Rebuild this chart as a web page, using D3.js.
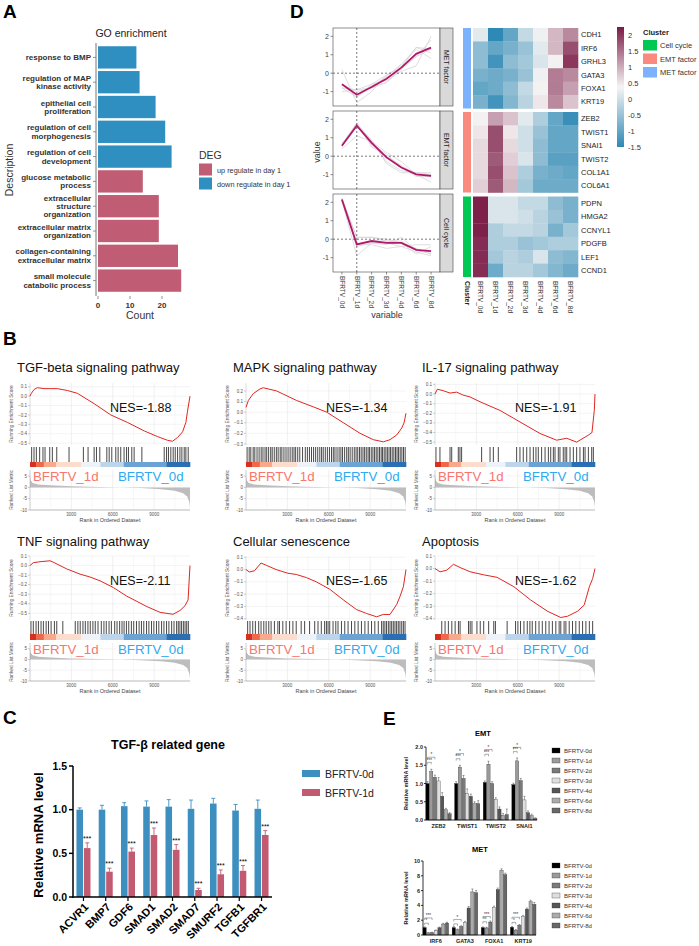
<!DOCTYPE html>
<html>
<head>
<meta charset="utf-8">
<script src="https://cdn.jsdelivr.net/npm/d3@7"></script>
<style>
body { margin: 0; background: #fff; }
text { font-family: "Liberation Sans", Arial, sans-serif; }
</style>
</head>
<body>
<script>
// ---------- A: GO enrichment
var goTerms = ["response to BMP", "regulation of MAP\nkinase activity", "epithelial cell\nproliferation",
  "regulation of cell\nmorphogenesis", "regulation of cell\ndevelopment", "glucose metabolic\nprocess",
  "extracellular\nstructure\norganization", "extracellular matrix\norganization",
  "collagen-containing\nextracellular matrix", "small molecule\ncatabolic process"];
var goCounts = [12, 13, 18, 21, 23, 14, 19, 19, 25, 26];
var goDEG = ["down", "down", "down", "down", "down", "up", "up", "up", "up", "up"];
var countTicks = [0, 10, 20];
var degLabels = ["up regulate in day 1", "down regulate in day 1"];

// ---------- B: GSEA
var gseaNames = ["TGF-beta signaling pathway", "MAPK signaling pathway", "IL-17 signaling pathway",
  "TNF signaling pathway", "Cellular senescence", "Apoptosis"];
var gseaNES = ["-1.88", "-1.34", "-1.91", "-2.11", "-1.65", "-1.62"];
var nRank = 11600;
var esTGF = [[0,0],[100,0.03],[290,0.07],[530,0.09],[1020,0.08],[1500,0.08],[1980,0.08],[2710,0.06],[3440,0.03],[4650,-0.08],[5860,-0.2],[7070,-0.28],[8280,-0.37],[9240,-0.43],[9970,-0.47],[10330,-0.48],[10700,-0.44],[11060,-0.38],[11300,-0.28],[11420,-0.16],[11600,0]];
var esMAPK = [[0,0.045],[170,0.11],[530,0.175],[1020,0.22],[1260,0.23],[2220,0.2],[3670,0.11],[4880,0.05],[5850,0],[7060,-0.1],[8270,-0.2],[9230,-0.26],[9960,-0.28],[10440,-0.26],[10930,-0.215],[11290,-0.15],[11460,-0.1],[11600,-0.01]];
var esIL17 = [[0,0],[170,0.05],[600,0.035],[1090,0.01],[1570,0.02],[2030,-0.01],[2540,-0.03],[3260,-0.08],[4710,-0.17],[6160,-0.29],[7610,-0.41],[8820,-0.48],[9550,-0.46],[10270,-0.5],[11090,-0.43],[11380,-0.4],[11550,-0.17],[11600,0]];
var esTNF = [[0,0],[240,0.03],[730,0.04],[1450,0.05],[1690,0.035],[2660,-0.035],[3630,-0.09],[4350,-0.12],[5080,-0.16],[6040,-0.23],[7010,-0.32],[8480,-0.43],[9430,-0.49],[10370,-0.51],[10880,-0.47],[11240,-0.42],[11460,-0.36],[11600,0]];
var esSEN = [[0,0],[240,-0.02],[610,-0.01],[1090,0.053],[1460,0.035],[2180,0],[3030,-0.03],[3640,-0.04],[4370,-0.065],[5100,-0.1],[6070,-0.16],[7040,-0.245],[8010,-0.325],[8740,-0.357],[9470,-0.384],[9950,-0.365],[10440,-0.365],[10920,-0.285],[11160,-0.22],[11410,-0.14],[11600,0]];
var esAPO = [[0,0],[370,-0.026],[850,-0.013],[1340,0.034],[1820,0.008],[2550,-0.026],[3530,-0.05],[4500,-0.07],[5720,-0.145],[6930,-0.25],[8150,-0.34],[9120,-0.39],[9610,-0.38],[10340,-0.34],[10820,-0.29],[11190,-0.145],[11430,-0.08],[11600,0]];
var esDomains = [[-0.52, 0.14], [-0.31, 0.275], [-0.53, 0.115], [-0.57, 0.1], [-0.41, 0.11], [-0.41, 0.1]];
var hitsTGF = [120,290,460,700,940,1090,1430,1620,1940,2830,3870,4210,4650,4820,5060,5570,5740,5930,6220,6390,6580,6820,7000,7140,7380,7550,8110,9730,9900,10040,10210,10380,10530,10700,10870,11010,11180,11300,11470];
var hitsMAPK = [80,230,350,520,640,800,950,1100,1230,1380,1500,1640,1790,1900,2050,2200,2330,2480,2600,2750,2900,3050,3200,3350,3480,3600,3750,3900,4100,4300,4450,4600,4750,4900,5050,5200,5350,5480,5600,5750,5900,6050,6200,6330,6450,6600,6750,6880,7000,7150,7300,7420,7550,7700,7850,7980,8100,8230,8350,8480,8600,8720,8850,8950,9080,9200,9320,9440,9560,9680,9800,9900,10020,10140,10250,10370,10480,10600,10720,10840,10950,11060,11180,11300,11420,11540];
var hitsIL17 = [70,360,1090,1210,1690,1810,1930,3380,3990,4230,4590,5920,6160,6400,6650,6890,7130,7320,7490,7730,7980,8220,8390,8580,8700,8940,9060,9300,9430,9550,9790,10030,10270,10510,10760,10880,11120,11360,11480];
var hitsTNF = [70,240,440,610,800,970,1170,1340,1530,1770,1940,2380,3280,3470,3640,3840,4010,4200,4370,4560,4730,4930,5170,5360,5530,5730,5900,6140,6310,6500,6670,6820,6990,7160,7350,7520,7720,7910,8080,8250,8450,8620,8810,8980,9170,9340,9540,9710,9900,10070,10270,10440,10630,10750,10870,10990,11120,11240,11360,11480];
var hitsSEN = [120,290,490,680,920,1090,1290,1460,1650,1820,2060,2310,2430,2670,2910,3160,3400,3640,4000,4250,4610,4980,5220,5460,5700,5830,5950,6070,6310,6510,6670,6920,7160,7400,7650,7890,8130,8370,8620,8860,9100,9340,9590,9830,9950,10070,10190,10320,10440,10560,10680,10800,10920,11040,11160,11290,11410,11530];
var hitsAPO = [490,730,970,1220,1460,1700,1820,2430,2550,2680,3040,3280,3530,3890,4260,4380,5230,5840,6010,6200,6450,6690,6880,7050,7300,7540,7780,8030,8270,8510,8760,9000,9120,9360,9490,9730,9970,10210,10460,10700,10940,11190,11430];
var rankMetric = [[0,5],[60,3],[200,2],[600,1.3],[1500,0.9],[3000,0.5],[5000,0.2],[6500,0],[8000,-0.3],[9500,-0.8],[10500,-1.5],[11100,-2.6],[11400,-4],[11550,-6.5],[11600,-9]];
var rankTicks = [5, 0, -5, -10];
var rankXTicks = [3000, 6000, 9000];
var cbBreaks = [0, 450, 1000, 1900, 3700, 5100, 6800, 9900, 11600];
var cbColors = ["#d7301f", "#f0684a", "#f8a98c", "#fcdccd", "#eef2f9", "#bcd5eb", "#6aa3d4", "#2a6eb3"];

// ---------- C: TGF-beta related genes
var tgfGenes = ["ACVR1", "BMP7", "GDF6", "SMAD1", "SMAD2", "SMAD7", "SMURF2", "TGFB1", "TGFBR1"];
var tgfGroups = ["BFRTV-0d", "BFRTV-1d"];
var tgf0d = [1.0, 1.0, 1.04, 1.035, 1.035, 1.01, 1.07, 0.99, 1.01];
var tgf0dErr = [0.02, 0.05, 0.04, 0.065, 0.08, 0.1, 0.06, 0.07, 0.1];
var tgf1d = [0.56, 0.29, 0.52, 0.71, 0.54, 0.08, 0.26, 0.3, 0.71];
var tgf1dErr = [0.06, 0.04, 0.04, 0.08, 0.06, 0.02, 0.05, 0.06, 0.05];
var tgfTicks = [0, 0.5, 1.0, 1.5];

// ---------- D: temporal clusters
var days = ["BFRTV_0d", "BFRTV_1d", "BFRTV_2d", "BFRTV_3d", "BFRTV_4d", "BFRTV_6d", "BFRTV_8d"];
var clusterNames = ["MET factor", "EMT factor", "Cell cycle"];
var clusterColors = ["#7cb1fb", "#fa8a7e", "#00c853"];
var metGenes = ["CDH1", "IRF6", "GRHL3", "GATA3", "FOXA1", "KRT19"];
var metZ = [[0.2,-1.6,-1.0,-0.1,0.3,0.9,1.3],[-0.6,-1.0,-0.8,-0.5,0.2,0.9,1.8],[-0.6,-1.3,-0.6,-0.4,0.1,0.4,2.0],
  [-0.8,-0.9,-0.8,-0.5,0.3,1.4,1.3],[-1.0,-0.9,-0.6,-0.1,0.4,1.4,1.1],[-0.8,-1.3,-0.7,-0.2,0.5,1.3,0.8]];
var emtGenes = ["ZEB2", "TWIST1", "SNAI1", "TWIST2", "COL1A1", "COL6A1"];
var emtZ = [[0.4,1.1,0.8,0.2,-0.3,-1.0,-1.4],[0.5,1.8,0.5,0.0,-0.5,-1.0,-1.0],[0.6,1.8,0.6,0.0,-0.6,-1.0,-1.0],
  [0.6,1.7,0.7,0.1,-0.6,-1.1,-1.1],[0.6,1.8,0.8,-0.3,-0.8,-0.9,-1.0],[0.7,1.7,0.9,-0.4,-0.9,-0.9,-0.9]];
var cycGenes = ["PDPN", "HMGA2", "CCNYL1", "PDGFB", "LEF1", "CCND1"];
var cycZ = [[2.2,0.1,0.1,-0.1,-0.1,-0.6,-0.8],[2.2,0.1,0.1,0.0,-0.2,-0.5,-0.8],[2.2,-0.3,-0.1,-0.1,-0.2,-0.8,-0.4],
  [2.1,-0.3,-0.3,-0.5,-0.4,-0.3,-0.3],[2.1,-0.4,-0.2,-0.3,0.1,-0.6,-0.7],[2.1,-0.9,-0.2,-0.2,-0.4,-0.7,-0.9]];
var valueTicks = [-1, 0, 1, 2];
var heatTicks = [2, 1.5, 1, 0.5, 0, -0.5, -1, -1.5];

// ---------- E: qPCR time course
var eDays = ["BFRTV-0d", "BFRTV-1d", "BFRTV-2d", "BFRTV-3d", "BFRTV-4d", "BFRTV-6d", "BFRTV-8d"];
var eGrays = ["#000000", "#9a9a9a", "#7a7a7a", "#dedede", "#565656", "#ababab", "#686868"];
var emtGenesE = ["ZEB2", "TWIST1", "TWIST2", "SNAI1"];
var emtVals = [[1.0,1.33,1.17,1.07,0.65,0.28,0.17],[1.0,1.45,1.14,0.72,0.65,0.45,0.45],[1.03,1.53,1.0,0.56,0.3,0.13,0.15],[0.97,1.62,1.08,0.55,0.2,0.12,0.04]];
var emtErr = [[0.05,0.06,0.06,0.09,0.1,0.04,0.03],[0.05,0.05,0.08,0.13,0.06,0.05,0.08],[0.04,0.08,0.05,0.05,0.06,0.05,0.15],[0.04,0.08,0.06,0.1,0.05,0.04,0.02]];
var emtBr = [[[0,1,1.58,"***"],[0,2,1.72,"*"]],[[0,1,1.68,"***"],[0,2,1.82,"*"]],[[0,1,1.8,"***"],[0,2,1.93,"*"]],[[0,1,1.88,"***"],[0,2,1.99,"*"]]];
var emtTicks = [0, 0.5, 1.0, 1.5, 2.0];
var metGenesE = ["IRF6", "GATA3", "FOXA1", "KRT19"];
var metVals = [[1.0,0.28,0.32,0.6,0.98,1.48,1.62],[1.0,0.7,1.15,1.72,3.65,5.82,5.72],[1.0,0.95,1.75,3.75,6.15,8.75,8.15],[1.05,0.65,1.32,2.55,3.5,4.5,4.15]];
var metErr = [[0.1,0.05,0.05,0.08,0.1,0.1,0.1],[0.15,0.1,0.1,0.1,0.2,0.4,0.3],[0.1,0.1,0.15,0.15,0.2,0.2,0.2],[0.1,0.1,0.1,0.1,0.15,0.2,0.25]];
var metBr = [[[0,1,1.6,"*"],[0,2,2.3,"***"]],[[0,1,1.5,""],[0,2,2.1,"*"]],[[0,1,1.8,"**"],[0,2,2.5,"***"]],[[0,1,1.7,"*"],[0,2,2.4,"***"]]];
var metTicks = [0, 2, 4, 6, 8, 10];

var width = 699, height = 946;
var svg = d3.select("body").append("svg").attr("width", width).attr("height", height);

function txt(g, x, y, s, size, opt) {
  opt = opt || {};
  var t = g.append("text").attr("x", x).attr("y", y).attr("font-size", size).text(s)
    .attr("fill", opt.fill || "#000");
  if (opt.bold) t.attr("font-weight", "bold");
  if (opt.anchor) t.attr("text-anchor", opt.anchor);
  if (opt.rotate != null) t.attr("transform", "rotate(" + opt.rotate + "," + x + "," + y + ")");
  return t;
}
function hline(g, x1, x2, y, col, w) {
  return g.append("line").attr("x1", x1).attr("x2", x2).attr("y1", y).attr("y2", y).attr("stroke", col).attr("stroke-width", w);
}
function vline(g, x, y1, y2, col, w) {
  return g.append("line").attr("x1", x).attr("x2", x).attr("y1", y1).attr("y2", y2).attr("stroke", col).attr("stroke-width", w);
}

// panel letters
[["A", 3, 18], ["D", 290, 18], ["B", 3, 345], ["C", 3, 724], ["E", 383, 725]].forEach(function (l) {
  txt(svg, l[1], l[2], l[0], 19, {bold: true});
});

// ================= A =================
var gA = svg.append("g");
var yA = d3.scaleBand().domain(goTerms).range([45, 293]).paddingInner(0.1).paddingOuter(0.05);
var xA = d3.scaleLinear().domain([0, 20]).range([98, 162]);
txt(gA, 131, 37, "GO enrichment", 10.5, {anchor: "middle", fill: "#222"});
gA.selectAll("rect").data(goTerms).join("rect")
  .attr("x", xA(0)).attr("y", function (d) { return yA(d); })
  .attr("height", yA.bandwidth())
  .attr("width", function (d, i) { return xA(goCounts[i]) - xA(0); })
  .attr("fill", function (d, i) { return goDEG[i] === "up" ? "#c05c73" : "#2e8fc0"; });
vline(gA, 96, 43, 296, "#777", 1);
goTerms.forEach(function (d) {
  var cy = yA(d) + yA.bandwidth() / 2;
  hline(gA, 93, 96, cy, "#777", 0.8);
  var lines = d.split("\n");
  lines.forEach(function (s, j) {
    txt(gA, 91, cy + (j - (lines.length - 1) / 2) * 8.3 + 2.8, s, 8, {bold: true, anchor: "end", fill: "#333"});
  });
});
countTicks.forEach(function (t) {
  vline(gA, xA(t), 296, 299, "#777", 0.8);
  txt(gA, xA(t), 308, t, 8, {anchor: "middle", bold: true, fill: "#333"});
});
txt(gA, 140, 319, "Count", 10.5, {anchor: "middle", fill: "#333"});
txt(gA, 13, 170, "Description", 10.5, {anchor: "middle", fill: "#333", rotate: -90});
txt(gA, 199, 159, "DEG", 10.5, {fill: "#333"});
gA.append("rect").attr("x", 199).attr("y", 163.5).attr("width", 13).attr("height", 12).attr("fill", "#c05c73");
gA.append("rect").attr("x", 199).attr("y", 177.5).attr("width", 13).attr("height", 12).attr("fill", "#2e8fc0");
txt(gA, 217, 172.5, degLabels[0], 7.3, {fill: "#333"});
txt(gA, 217, 186.5, degLabels[1], 7.3, {fill: "#333"});

// ================= B =================
var gseaES = [esTGF, esMAPK, esIL17, esTNF, esSEN, esAPO];
var gseaHits = [hitsTGF, hitsMAPK, hitsIL17, hitsTNF, hitsSEN, hitsAPO];
var gseaLeft = [30, 246, 435];
var gseaRows = [
  {title: 372, esTop: 383, esBot: 445, hitTop: 447, hitBot: 462, cbBot: 467, rlTop: 470, rlBot: 510},
  {title: 546, esTop: 556, esBot: 620, hitTop: 621, hitBot: 634, cbBot: 640, rlTop: 643, rlBot: 681}
];
gseaNames.forEach(function (name, k) {
  var g = svg.append("g");
  var L = gseaLeft[k % 3], R = L + 160, lay = gseaRows[Math.floor(k / 3)];
  var x = d3.scaleLinear().domain([0, nRank]).range([L, R]);
  var yES = d3.scaleLinear().domain(esDomains[k]).range([lay.esBot, lay.esTop]);
  var yRL = d3.scaleLinear().domain([-10, 7.7]).range([lay.rlBot, lay.rlTop]);
  txt(g, L - 13, lay.title, name, 13, {fill: "#111"});
  // grid
  [1500, 3000, 4500, 6000, 7500, 9000, 10500].forEach(function (t) {
    var c = (t % 3000 === 0) ? "#e6e6e6" : "#f2f2f2";
    vline(g, x(t), lay.esTop, lay.esBot, c, 0.6);
    vline(g, x(t), lay.rlTop, lay.rlBot, c, 0.6);
  });
  var esT = yES.ticks(7);
  esT.forEach(function (t) {
    hline(g, L, R, yES(t), "#ececec", 0.6);
    hline(g, L - 2, L, yES(t), "#888", 0.4);
    txt(g, L - 3, yES(t) + 1.6, d3.format(".1f")(t), 4.5, {anchor: "end", fill: "#555"});
  });
  vline(g, L, lay.esTop, lay.esBot, "#bbb", 0.5);
  txt(g, L - 17, (lay.esTop + lay.esBot) / 2, "Running Enrichment Score", 4.8, {anchor: "middle", fill: "#555", rotate: -90});
  // enrichment curve
  g.append("path").datum(gseaES[k])
    .attr("d", d3.line().x(function (d) { return x(d[0]); }).y(function (d) { return yES(d[1]); }))
    .attr("fill", "none").attr("stroke", "#e0261f").attr("stroke-width", 1);
  // hits
  g.selectAll("line.hit").data(gseaHits[k]).join("line").attr("class", "hit")
    .attr("x1", function (d) { return x(d); }).attr("x2", function (d) { return x(d); })
    .attr("y1", lay.hitTop).attr("y2", lay.hitBot)
    .attr("stroke", "#000").attr("stroke-opacity", 0.8).attr("stroke-width", 0.9);
  // rank colour bar
  cbColors.forEach(function (c, i) {
    g.append("rect").attr("x", x(cbBreaks[i])).attr("y", lay.hitBot)
      .attr("width", x(cbBreaks[i + 1]) - x(cbBreaks[i]) + 0.3).attr("height", lay.cbBot - lay.hitBot).attr("fill", c);
  });
  // ranked list metric
  rankTicks.forEach(function (t) {
    hline(g, L, R, yRL(t), "#ececec", 0.6);
    hline(g, L - 2, L, yRL(t), "#888", 0.4);
    txt(g, L - 3, yRL(t) + 1.6, t, 4.5, {anchor: "end", fill: "#555"});
  });
  g.append("path").datum(rankMetric)
    .attr("d", d3.area().x(function (d) { return x(d[0]); }).y0(yRL(0)).y1(function (d) { return yRL(d[1]); }))
    .attr("fill", "#bdbdbd");
  vline(g, L, lay.rlTop, lay.rlBot, "#999", 0.5);
  hline(g, L, R, lay.rlBot, "#999", 0.6);
  txt(g, L - 17, (lay.rlTop + lay.rlBot) / 2, "Ranked List Metric", 4.8, {anchor: "middle", fill: "#555", rotate: -90});
  rankXTicks.forEach(function (t) {
    txt(g, x(t), lay.rlBot + 5.5, t, 4.5, {anchor: "middle", fill: "#555"});
  });
  txt(g, (L + R) / 2, lay.rlBot + 11.5, "Rank in Ordered Dataset", 5.5, {anchor: "middle", fill: "#444"});
  // group labels with white backing
  g.append("rect").attr("x", L + 2).attr("y", lay.rlTop - 1).attr("width", 68).attr("height", 13).attr("fill", "#fff");
  g.append("rect").attr("x", L + 86).attr("y", lay.rlTop - 1).attr("width", 69).attr("height", 13).attr("fill", "#fff");
  txt(g, L + 3, lay.rlTop + 11, "BFRTV_1d", 13.3, {fill: "#f8766d"});
  txt(g, L + 88, lay.rlTop + 11, "BFRTV_0d", 13.3, {fill: "#2eaaf0"});
  txt(g, L + 80, lay.esTop + 29, "NES=" + gseaNES[k], 12.5, {fill: "#111"});
});

// ================= C =================
var gC = svg.append("g");
var x0C = d3.scaleBand().domain(tgfGenes).range([73, 272]).paddingInner(0.37).paddingOuter(0.155);
var x1C = d3.scaleBand().domain(tgfGroups).range([0, x0C.bandwidth()]).paddingInner(0.12);
var yC = d3.scaleLinear().domain([0, 1.5]).range([897, 766]);
var tgfColors = ["#3d8fc0", "#c25b72"];
txt(gC, 168, 749, "TGF-\u03b2 related gene", 12.5, {bold: true, anchor: "middle"});
tgfGenes.forEach(function (gname, i) {
  [[tgf0d[i], tgf0dErr[i]], [tgf1d[i], tgf1dErr[i]]].forEach(function (ve, j) {
    var bx = x0C(gname) + x1C(tgfGroups[j]), bw = x1C.bandwidth(), cx = bx + bw / 2;
    gC.append("rect").attr("x", bx).attr("y", yC(ve[0])).attr("width", bw).attr("height", yC(0) - yC(ve[0])).attr("fill", tgfColors[j]);
    vline(gC, cx, yC(ve[0]), yC(ve[0] + ve[1]), tgfColors[j], 0.9);
    hline(gC, cx - 2, cx + 2, yC(ve[0] + ve[1]), tgfColors[j], 0.9);
    if (j === 1) txt(gC, cx, yC(ve[0] + ve[1]) - 2, "***", 7, {anchor: "middle"});
  });
  var gc = x0C(gname) + x0C.bandwidth() / 2;
  vline(gC, gc, 897, 901, "#000", 1.2);
  gC.append("text").attr("transform", "translate(" + (gc + 3) + ",905) rotate(-45)")
    .attr("text-anchor", "end").attr("dy", "0.35em").attr("font-size", 11).attr("font-weight", "bold").text(gname);
});
vline(gC, 73, 766, 897.7, "#000", 1.5);
hline(gC, 72.3, 272, 897, "#000", 1.5);
tgfTicks.forEach(function (t) {
  hline(gC, 69, 73, yC(t), "#000", 1.5);
  txt(gC, 67, yC(t) + 3.8, d3.format(".1f")(t), 10.5, {bold: true, anchor: "end"});
});
txt(gC, 43, 835, "Relative mRNA level", 13, {bold: true, anchor: "middle", rotate: -90});
tgfGroups.forEach(function (s, j) {
  gC.append("rect").attr("x", 302).attr("y", 770 + j * 19).attr("width", 18).attr("height", 7).attr("fill", tgfColors[j]);
  txt(gC, 325, 777.5 + j * 19, s, 10.5, {fill: "#222"});
});

// ================= D =================
var gD = svg.append("g");
var xD = d3.scalePoint().domain(days).range([333, 440]).padding(0.6);
var dTops = [28, 111, 194], dH = 78;
var clusterZ = [metZ, emtZ, cycZ];
var clusterGenes = [metGenes, emtGenes, cycGenes];
clusterNames.forEach(function (name, gi) {
  var top = dTops[gi], z = clusterZ[gi];
  var yD = d3.scaleLinear().domain([-1.78, 2.45]).range([top + dH, top]);
  var line = d3.line().x(function (d, j) { return xD(days[j]); }).y(function (d) { return yD(d); });
  gD.append("rect").attr("x", 333).attr("y", top).attr("width", 107).attr("height", dH).attr("fill", "#fff");
  z.forEach(function (row) {
    gD.append("path").datum(row).attr("d", line).attr("fill", "none").attr("stroke", "#d6d6d6").attr("stroke-width", 0.8);
  });
  hline(gD, 333, 440, yD(0), "#555", 0.8).attr("stroke-dasharray", "2,2");
  vline(gD, xD("BFRTV_1d"), top, top + dH, "#555", 0.8).attr("stroke-dasharray", "2,2");
  var mean = days.map(function (d, j) { return d3.mean(z, function (r) { return r[j]; }); });
  gD.append("path").datum(mean).attr("d", line).attr("fill", "none").attr("stroke", "#b3176c").attr("stroke-width", 1.8);
  gD.append("rect").attr("x", 333).attr("y", top).attr("width", 107).attr("height", dH)
    .attr("fill", "none").attr("stroke", "#444").attr("stroke-width", 0.6);
  gD.append("rect").attr("x", 440).attr("y", top).attr("width", 13).attr("height", dH)
    .attr("fill", "#d9d9d9").attr("stroke", "#444").attr("stroke-width", 0.6);
  txt(gD, 444, top + dH / 2, name, 7, {anchor: "middle", fill: "#222", rotate: 90});
  valueTicks.forEach(function (t) {
    hline(gD, 330.5, 333, yD(t), "#444", 0.6);
    txt(gD, 329, yD(t) + 2.5, t, 7, {anchor: "end", fill: "#444"});
  });
});
days.forEach(function (d) {
  vline(gD, xD(d), 272, 274.5, "#444", 0.6);
  txt(gD, xD(d) - 2.2, 276, d, 6.5, {fill: "#444", rotate: 90});
});
txt(gD, 387, 318, "variable", 9, {anchor: "middle", fill: "#333"});
txt(gD, 320, 152, "value", 9, {anchor: "middle", fill: "#333", rotate: -90});

// heatmap
var xH = d3.scaleBand().domain(days).range([473, 578]);
var hTops = [28, 112, 196.5], hH = 80.5;
var heatColor = d3.scaleLinear().domain([-1.5, 0.375, 2.25]).range(["#2e89b5", "#f6f4f4", "#7a1b45"]).clamp(true);
clusterNames.forEach(function (name, gi) {
  var yH = d3.scaleBand().domain(clusterGenes[gi]).range([hTops[gi], hTops[gi] + hH]);
  gD.append("rect").attr("x", 463).attr("y", hTops[gi]).attr("width", 8).attr("height", hH).attr("fill", clusterColors[gi]);
  clusterZ[gi].forEach(function (row, r) {
    var gene = clusterGenes[gi][r];
    row.forEach(function (v, j) {
      gD.append("rect").attr("x", xH(days[j])).attr("y", yH(gene))
        .attr("width", xH.bandwidth() + 0.3).attr("height", yH.bandwidth() + 0.3).attr("fill", heatColor(v));
    });
    txt(gD, 581, yH(gene) + yH.bandwidth() / 2 + 2.7, gene, 7.5, {fill: "#222"});
  });
});
days.forEach(function (d) {
  txt(gD, xH(d) + xH.bandwidth() / 2 - 2.2, 281, d, 6.5, {fill: "#333", rotate: 90});
});
txt(gD, 464.5, 281, "Cluster", 7, {bold: true, fill: "#222", rotate: 90});
// colour key
var grad = svg.append("defs").append("linearGradient").attr("id", "heatGrad")
  .attr("x1", 0).attr("x2", 0).attr("y1", 0).attr("y2", 1);
[2.25, 1.8, 1.3, 0.8, 0.375, 0, -0.5, -1, -1.5].forEach(function (v) {
  grad.append("stop").attr("offset", (2.25 - v) / 3.75).attr("stop-color", heatColor(v));
});
var yKey = d3.scaleLinear().domain([-1.5, 2.25]).range([147, 27]);
gD.append("rect").attr("x", 617).attr("y", 27).attr("width", 7).attr("height", 120).attr("fill", "url(#heatGrad)");
heatTicks.forEach(function (t) {
  txt(gD, 628, yKey(t) + 2.6, t, 7.5, {fill: "#333"});
});
txt(gD, 643, 35, "Cluster", 7.5, {bold: true, fill: "#222"});
[2, 1, 0].forEach(function (ci, i) {
  gD.append("rect").attr("x", 643).attr("y", 40 + i * 13.5).attr("width", 14).attr("height", 10.5).attr("fill", clusterColors[ci]);
  txt(gD, 660, 48 + i * 13.5, clusterNames[ci], 7.5, {fill: "#333"});
});

// ================= E =================
function drawE(cfg) {
  var g = svg.append("g");
  var x0 = d3.scaleBand().domain(cfg.genes).range(cfg.xr).paddingInner(0.12);
  var x1 = d3.scaleBand().domain(eDays).range([0, x0.bandwidth()]).paddingInner(0.12);
  var y = d3.scaleLinear().domain(cfg.yd).range(cfg.yr);
  txt(g, cfg.titleX, cfg.titleY, cfg.title, 7.5, {bold: true, anchor: "middle"});
  cfg.genes.forEach(function (gn, i) {
    cfg.vals[i].forEach(function (v, j) {
      var bx = x0(gn) + x1(eDays[j]), cx = bx + x1.bandwidth() / 2;
      vline(g, cx, y(v), y(v + cfg.errs[i][j]), "#222", 0.4);
      hline(g, cx - 1, cx + 1, y(v + cfg.errs[i][j]), "#222", 0.4);
      g.append("rect").attr("x", bx).attr("y", y(v)).attr("width", x1.bandwidth()).attr("height", y(0) - y(v))
        .attr("fill", eGrays[j]).attr("stroke", "#222").attr("stroke-width", 0.3);
    });
    cfg.br[i].forEach(function (b) {
      var xa = x0(gn) + x1(eDays[b[0]]) + x1.bandwidth() / 2, xb = x0(gn) + x1(eDays[b[1]]) + x1.bandwidth() / 2;
      var yy = y(b[2]);
      g.append("path").attr("d", "M" + xa + "," + (yy + 2) + "V" + yy + "H" + xb + "V" + (yy + 2))
        .attr("fill", "none").attr("stroke", "#333").attr("stroke-width", 0.4);
      if (b[3]) txt(g, (xa + xb) / 2, yy - 0.8, b[3], 4.5, {anchor: "middle", fill: "#333"});
    });
    txt(g, x0(gn) + x0.bandwidth() / 2, cfg.yr[0] + 8, gn, 5.5, {bold: true, anchor: "middle", fill: "#222"});
  });
  vline(g, cfg.xr[0], cfg.yr[1], cfg.yr[0], "#000", 0.8);
  hline(g, cfg.xr[0], cfg.xr[1], cfg.yr[0], "#000", 0.8);
  cfg.ticks.forEach(function (t) {
    hline(g, cfg.xr[0] - 2, cfg.xr[0], y(t), "#000", 0.8);
    txt(g, cfg.xr[0] - 3, y(t) + 2, cfg.fmt(t), 5.5, {bold: true, anchor: "end", fill: "#222"});
  });
  txt(g, 408, (cfg.yr[0] + cfg.yr[1]) / 2, "Relative mRNA level", 5.5, {bold: true, anchor: "middle", fill: "#222", rotate: -90});
  eDays.forEach(function (d, j) {
    g.append("rect").attr("x", 552).attr("y", cfg.legTop + j * 10 - 3).attr("width", 8).attr("height", 5)
      .attr("fill", eGrays[j]).attr("stroke", "#222").attr("stroke-width", 0.3);
    txt(g, 564, cfg.legTop + j * 10 + 1.8, d, 6, {fill: "#333"});
  });
}
drawE({genes: emtGenesE, vals: emtVals, errs: emtErr, br: emtBr, xr: [426, 537], yd: [0, 2], yr: [820, 747],
  ticks: emtTicks, fmt: d3.format(".1f"), title: "EMT", titleX: 483, titleY: 736, legTop: 751});
drawE({genes: metGenesE, vals: metVals, errs: metErr, br: metBr, xr: [423, 536], yd: [0, 10], yr: [935, 861],
  ticks: metTicks, fmt: d3.format("d"), title: "MET", titleX: 480, titleY: 852, legTop: 866});
</script>
</body>
</html>
